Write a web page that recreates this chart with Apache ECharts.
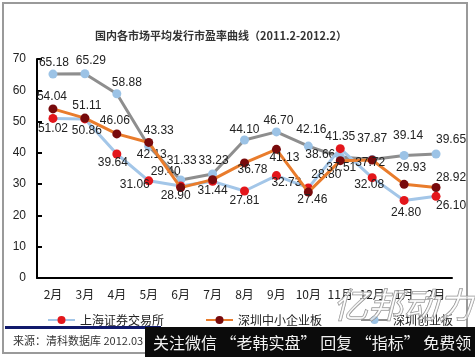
<!DOCTYPE html>
<html><head><meta charset="utf-8">
<script src="https://cdn.jsdelivr.net/npm/echarts@6/dist/echarts.min.js"></script>
<style>html,body{margin:0;padding:0;background:#fff}#c{width:475px;height:357px}</style>
</head><body><div id="c"></div>
<script>
// ---- data ----
const categories = ['2月','3月','4月','5月','6月','7月','8月','9月','10月','11月','12月','1月','2月'];
const seriesNames = ['上海证券交易所','深圳中小企业板','深圳创业板'];
const shanghai = [51.02,50.86,39.64,31.06,29.40,30.90,27.81,32.73,28.80,41.35,32.08,24.80,26.10];
const sme      = [54.04,51.11,46.06,43.33,28.90,31.44,36.78,41.13,27.46,37.51,37.72,29.93,28.92];
const chinext  = [65.18,65.29,58.88,42.13,31.33,33.23,44.10,46.70,42.16,38.66,37.87,39.14,39.65];
const shanghaiLabelShown = [1,1,1,1,1,0,1,1,1,1,1,1,1];
const yMin = 0, yMax = 70, yStep = 10;
const titleText = '国内各市场平均发行市盈率曲线（2011.2-2012.2）';
const sourceText = '来源：清科数据库 2012.03';
const bannerText = '关注微信 “老韩实盘” 回复 “指标” 免费领';
const watermarkText = '亿邦动力';

// ---- label placement (style) ----
const offShanghai = [[0,10],[2,12],[-4,9],[-14,4],[-15,-14],[0,0],[0,10],[10,7],[18,-13],[0,-12],[-3,7],[2,12],[15,9]];
const offSme      = [[-1,-12],[2,-12],[-2,-13],[10,-12],[-5,8],[0,11],[8,7],[8,8],[4,8],[1,7],[-2,3],[7,-17],[15,-10]];
const offChinext  = [[1,-11],[6,-13],[10,-11],[3,8],[1,-19],[1,-13],[0,-10],[2,-11],[3,-16],[-20,-2],[0,-21],[4,-20],[15,-14]];

const numFont = 'Liberation Sans, Arial, sans-serif';
const cjkFont = 'Noto Sans CJK SC, sans-serif';

function mk(vals, offs, shown) {
  return vals.map((v, i) => ({
    value: v,
    label: { offset: offs[i], show: shown ? !!shown[i] : true }
  }));
}
function lineSeries(name, vals, offs, shown, lineColor, dotColor, z) {
  return {
    name, type: 'line', z,
    data: mk(vals, offs, shown),
    symbol: 'circle', symbolSize: 9, showAllSymbol: true,
    lineStyle: { color: lineColor, width: 3 },
    itemStyle: { color: dotColor, borderWidth: 0 },
    label: {
      show: true, position: 'inside', color: '#222',
      fontFamily: numFont, fontSize: 12,
      formatter: p => Number(p.value).toFixed(2)
    },
    emphasis: { disabled: true }
  };
}

const chart = echarts.init(document.getElementById('c'), null, { renderer: 'canvas' });
const legendCommon = {
  itemWidth: 27, itemHeight: 10, itemGap: 5, top: 309,
  textStyle: { fontFamily: cjkFont, fontSize: 12, color: '#222' }
};
chart.setOption({
  animation: false,
  backgroundColor: '#fff',
  title: {
    text: titleText, left: 216, top: 25, textAlign: 'center',
    textStyle: { fontFamily: cjkFont, fontSize: 11, fontWeight: 'bold', color: '#333' }
  },
  legend: [
    Object.assign({ data: [seriesNames[0]], left: 42 }, legendCommon),
    Object.assign({ data: [seriesNames[1]], left: 200 }, legendCommon),
    Object.assign({ data: [seriesNames[2]], left: 355 }, legendCommon)
  ],
  grid: { left: 37, right: 23, top: 59, bottom: 79, containLabel: false },
  xAxis: {
    type: 'category', data: categories, boundaryGap: true,
    axisLine: { lineStyle: { color: '#000', width: 2 } },
    axisTick: { inside: true, length: 5, alignWithLabel: false, lineStyle: { color: '#000', width: 2 } },
    axisLabel: { color: '#222', fontFamily: cjkFont, fontSize: 12, margin: 10, interval: 0 },
    splitLine: { show: false }
  },
  yAxis: {
    type: 'value', min: yMin, max: yMax, interval: yStep,
    axisLine: { show: true, lineStyle: { color: '#000', width: 2 } },
    axisTick: { show: true, inside: true, length: 5, lineStyle: { color: '#000', width: 2 } },
    axisLabel: { color: '#222', fontFamily: numFont, fontSize: 12, margin: 11 },
    splitLine: { show: false }
  },
  series: [
    lineSeries(seriesNames[0], shanghai, offShanghai, shanghaiLabelShown, '#a3c6e8', '#e3161b', 3),
    lineSeries(seriesNames[1], sme, offSme, null, '#e97c2c', '#780a0c', 4),
    lineSeries(seriesNames[2], chinext, offChinext, null, '#8e8e8e', '#9cc3e6', 2)
  ],
  graphic: [
    { type: 'rect', z: 1, shape: { x: 3, y: 3, width: 464, height: 350 },
      style: { fill: 'none', stroke: '#9a9a9a', lineWidth: 2 } },
    { type: 'rect', z: 5, shape: { x: 5, y: 326, width: 156, height: 3 },
      style: { fill: '#10196b' } },
    { type: 'text', z: 5, x: 13, y: 341,
      style: { text: sourceText, fill: '#333', font: '11px ' + cjkFont, textVerticalAlign: 'middle' } },
    { type: 'rect', z: 20, shape: { x: 145, y: 327, width: 330, height: 30 },
      style: { fill: '#0b0b0b' } },
    { type: 'text', z: 21, x: 153, y: 343,
      style: { text: bannerText, fill: '#f2f2f2', font: '16px ' + cjkFont, textVerticalAlign: 'middle' } },
    { type: 'text', z: 15, x: 333, y: 305,
      style: { text: watermarkText, fill: 'rgba(255,255,255,0.55)', stroke: '#8a8a8a', lineWidth: 1,
        font: 'italic 35px ' + cjkFont, textVerticalAlign: 'middle' } }
  ]
});
</script></body></html>
